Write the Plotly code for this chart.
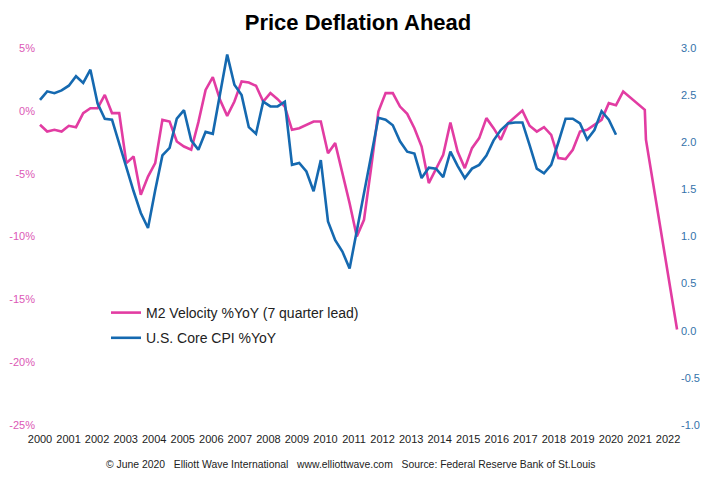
import plotly.graph_objects as go

# ---- data (quarterly, starting 2000 Q1) ----
start_year = 2000
m2_velocity_lead = [
    -1.11, -1.65, -1.51, -1.65,   # 2000
    -1.19, -1.30, -0.18, 0.21,    # 2001
    0.21, 1.27, -0.18, -0.18,     # 2002
    -4.16, -3.64, -6.68, -5.23,   # 2003
    -4.16, -0.72, -0.85, -2.44,   # 2004
    -2.84, -3.10, -0.90, 1.67,    # 2005
    2.68, 0.88, -0.40, 0.74,      # 2006
    2.33, 2.25, 1.99, 0.74,       # 2007
    1.41, 0.93, 0.34, -1.51,      # 2008
    -1.38, -1.11, -0.85, -0.85,   # 2009
    -3.37, -2.57, -4.96, -7.35,   # 2010
    -10.0, -8.67, -4.50, -0.06,   # 2011
    1.41, 1.41, 0.34, -0.24,      # 2012
    -1.38, -2.84, -5.75, -4.56,   # 2013
    -3.50, -0.93, -3.24, -4.56,   # 2014
    -2.97, -2.17, -0.58, -1.38,   # 2015
    -2.31, -0.98, -0.48, 0.02,    # 2016
    -1.19, -1.65, -1.30, -1.91,   # 2017
    -3.76, -3.84, -3.10, -1.65,   # 2018
    -1.51, -1.11, -0.72, 0.61,    # 2019
    0.45, 1.54, 1.03, 0.56,       # 2020
    0.08,                         # 2021 Q1
]
m2_tail_x = [2021.04, 2022.12]
m2_tail = [-2.3, -17.4]

core_cpi = [
    2.45, 2.54, 2.52, 2.55,   # 2000
    2.60, 2.70, 2.63, 2.77,   # 2001
    2.41, 2.25, 2.24, 1.99,   # 2002
    1.72, 1.48, 1.25, 1.09,   # 2003
    1.49, 1.86, 1.94, 2.25,   # 2004
    2.34, 2.02, 1.92, 2.11,   # 2005
    2.09, 2.50, 2.93, 2.61,   # 2006
    2.50, 2.16, 2.09, 2.43,   # 2007
    2.38, 2.38, 2.43, 1.76,   # 2008
    1.78, 1.69, 1.48, 1.81,   # 2009
    1.16, 0.96, 0.84, 0.66,   # 2010
    1.06, 1.46, 1.86, 2.26,   # 2011
    2.24, 2.18, 2.01, 1.90,   # 2012
    1.88, 1.62, 1.73, 1.72,   # 2013
    1.63, 1.90, 1.75, 1.62,   # 2014
    1.72, 1.76, 1.86, 2.02,   # 2015
    2.13, 2.20, 2.21, 2.21,   # 2016
    1.97, 1.72, 1.67, 1.76,   # 2017
    2.00, 2.25, 2.25, 2.20,   # 2018
    2.03, 2.13, 2.33, 2.24,   # 2019
    2.08,                     # 2020 Q1
]

year_labels = [str(y) for y in range(2000, 2023)]
left_ticks = [5, 0, -5, -10, -15, -20, -25]
left_labels = ["5%", "0%", "-5%", "-10%", "-15%", "-20%", "-25%"]
right_ticks = [3.0, 2.5, 2.0, 1.5, 1.0, 0.5, 0.0, -0.5, -1.0]
right_labels = ["3.0", "2.5", "2.0", "1.5", "1.0", "0.5", "0.0", "-0.5", "-1.0"]

# ---- build x positions ----
m2_x = [start_year + i / 4 for i in range(len(m2_velocity_lead))] + m2_tail_x
m2_y = m2_velocity_lead + m2_tail
cpi_x = [start_year + i / 4 for i in range(len(core_cpi))]

MAGENTA = "#E23CA2"
BLUE = "#1569B0"
FONT = "Liberation Sans, Arial, sans-serif"

fig = go.Figure()
fig.add_trace(go.Scatter(
    x=m2_x, y=m2_y, mode="lines", name="M2 Velocity %YoY (7 quarter lead)",
    line=dict(color=MAGENTA, width=2.6), yaxis="y", legendgroup="a",
))
fig.add_trace(go.Scatter(
    x=cpi_x, y=core_cpi, mode="lines", name="U.S. Core CPI %YoY",
    line=dict(color=BLUE, width=2.6), yaxis="y2", legendgroup="b",
))

# page body has an 8px default margin, so the figure is 8px smaller
W, H = 700, 471
PX_PER_YEAR = 28.8
label_scale = 28.55 / PX_PER_YEAR
fig.update_layout(
    width=W, height=H,
    margin=dict(l=28, r=28, t=40, b=54, autoexpand=False),
    paper_bgcolor="white", plot_bgcolor="white",
    font=dict(family=FONT, size=11, color="#222"),
    title=dict(text="<b>Price Deflation Ahead</b>", x=0.5, xanchor="center",
               y=1 - 14 / H, yanchor="middle", yref="container",
               font=dict(family=FONT, size=22, color="#000")),
    xaxis=dict(range=[2000 - 4 / PX_PER_YEAR, 2000 + 640 / PX_PER_YEAR],
               tickvals=[2000 + k * label_scale for k in range(len(year_labels))],
               ticktext=year_labels, showgrid=False, zeroline=False,
               showline=False, ticks="", ticklabelstandoff=6, automargin=False,
               tickfont=dict(size=11, color="#222")),
    yaxis=dict(range=[-25, 5], tickvals=left_ticks, ticktext=left_labels,
               showgrid=False, zeroline=False, showline=False, ticks="",
               automargin=False,
               tickfont=dict(size=11, color="#DC58B6")),
    yaxis2=dict(range=[-1, 3], tickvals=right_ticks, ticktext=right_labels,
                overlaying="y", side="right", showgrid=False, zeroline=False,
                showline=False, ticks="", automargin=False,
                tickfont=dict(size=11, color="#3472AA")),
    legend=dict(x=(106 - 36) / 644, y=(425 - 297) / 377, xanchor="left",
                yanchor="top", traceorder="grouped", tracegroupgap=4,
                bgcolor="rgba(0,0,0,0)", font=dict(family=FONT, size=14, color="#222")),
    showlegend=True,
)

sp = "\u00a0\u00a0\u00a0"
fig.add_annotation(
    text=f"© June 2020{sp}Elliott Wave International{sp}www.elliottwave.com{sp}Source: Federal Reserve Bank of St.Louis",
    xref="paper", yref="paper", x=(351 - 36) / 644, y=(425 - 464) / 377,
    xanchor="center", yanchor="middle", showarrow=False,
    font=dict(family=FONT, size=10.4, color="#222"),
)

fig.write_html("out.html")
